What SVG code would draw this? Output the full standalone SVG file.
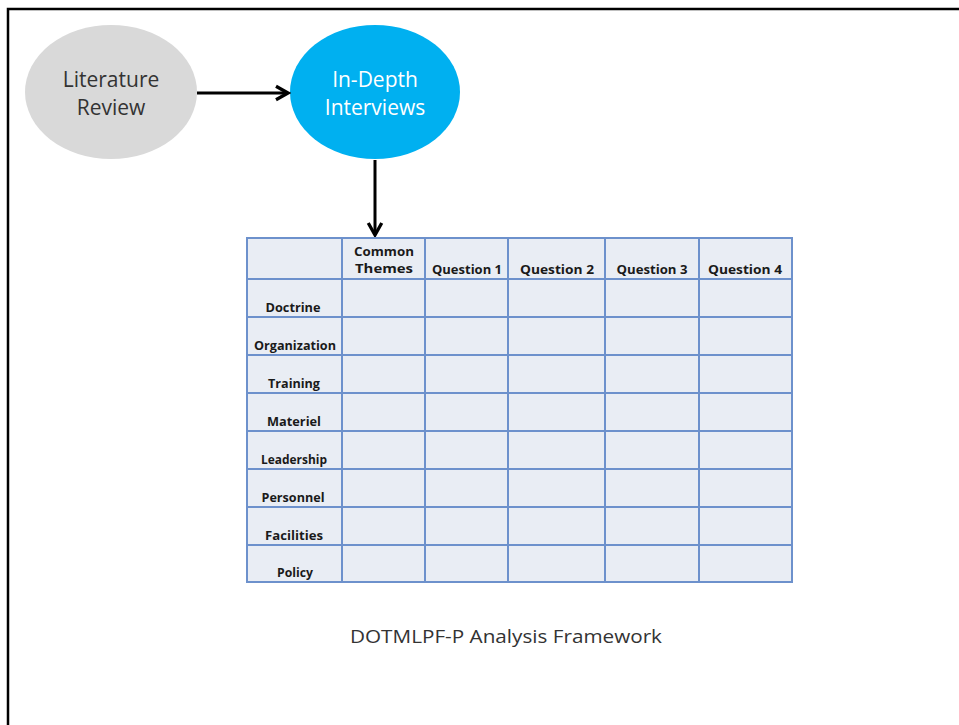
<svg xmlns="http://www.w3.org/2000/svg" width="959" height="725" viewBox="0 0 959 725">
<style>
.node-text{font-family:"Open Sans","Liberation Sans",sans-serif;font-size:21px;text-anchor:middle}
.cell{font-family:"Open Sans","Liberation Sans",sans-serif;font-size:12px;font-weight:700;fill:#1a1a1a;text-anchor:middle}
.grid{stroke:#6d91cc;stroke-width:2;fill:none}
.conn{stroke:#000;stroke-width:3;fill:none}
</style>
<defs>
<marker id="arrow" viewBox="0 0 12 12" refX="10" refY="6" markerWidth="6" markerHeight="6" markerUnits="strokeWidth" orient="auto">
<path d="M2,1.5 L10,6 L2,10.5" fill="none" stroke="#000" stroke-width="2.2"/>
</marker>
</defs>
<rect width="959" height="725" fill="#fff"/>
<g id="frame">
<path d="M8,725 V9 H959" fill="none" stroke="#000" stroke-width="2.5"/>
</g>
<g id="literature-review">
<ellipse cx="111" cy="92" rx="86" ry="67" fill="#d9d9d9"/>
<text class="node-text" x="111" y="87" fill="#333">Literature</text>
<text class="node-text" x="111" y="115" fill="#333">Review</text>
</g>
<g id="in-depth-interviews">
<ellipse cx="375" cy="92" rx="85" ry="67" fill="#00b0f0"/>
<text class="node-text" x="375" y="87" fill="#fff">In-Depth</text>
<text class="node-text" x="375" y="115" fill="#fff">Interviews</text>
</g>
<g id="connectors">
<line class="conn" x1="197" y1="93" x2="288" y2="93" marker-end="url(#arrow)"/>
<line class="conn" x1="375" y1="160" x2="375" y2="235" marker-end="url(#arrow)"/>
</g>
<g id="framework-table">
<rect x="247" y="238" width="545" height="344" fill="#e9edf4"/>
<path class="grid" d="M247,238 H792 V582 H247 Z M342,238 V582 M425,238 V582 M508,238 V582 M605,238 V582 M699,238 V582 M247,279 H792 M247,317 H792 M247,355 H792 M247,393 H792 M247,431 H792 M247,469 H792 M247,507 H792 M247,545 H792"/>
<text class="cell" x="384" y="256" textLength="60" lengthAdjust="spacingAndGlyphs">Common</text>
<text class="cell" x="384" y="273" textLength="58" lengthAdjust="spacingAndGlyphs">Themes</text>
<text class="cell" x="467" y="274" textLength="70" lengthAdjust="spacingAndGlyphs">Question 1</text>
<text class="cell" x="557" y="274" textLength="74" lengthAdjust="spacingAndGlyphs">Question 2</text>
<text class="cell" x="652" y="274" textLength="71" lengthAdjust="spacingAndGlyphs">Question 3</text>
<text class="cell" x="745" y="274" textLength="74" lengthAdjust="spacingAndGlyphs">Question 4</text>
<text class="cell" x="293" y="312" textLength="55" lengthAdjust="spacingAndGlyphs">Doctrine</text>
<text class="cell" x="295" y="350" textLength="82" lengthAdjust="spacingAndGlyphs">Organization</text>
<text class="cell" x="294" y="388" textLength="52" lengthAdjust="spacingAndGlyphs">Training</text>
<text class="cell" x="294" y="426" textLength="54" lengthAdjust="spacingAndGlyphs">Materiel</text>
<text class="cell" x="294" y="464" textLength="66" lengthAdjust="spacingAndGlyphs">Leadership</text>
<text class="cell" x="293" y="502" textLength="63" lengthAdjust="spacingAndGlyphs">Personnel</text>
<text class="cell" x="294" y="540" textLength="58" lengthAdjust="spacingAndGlyphs">Facilities</text>
<text class="cell" x="295" y="577" textLength="36" lengthAdjust="spacingAndGlyphs">Policy</text>
</g>
<g id="caption">
<text x="506" y="643" font-family="'Open Sans','Liberation Sans',sans-serif" font-size="18" fill="#333" text-anchor="middle" textLength="312" lengthAdjust="spacingAndGlyphs">DOTMLPF-P Analysis Framework</text>
</g>
</svg>
